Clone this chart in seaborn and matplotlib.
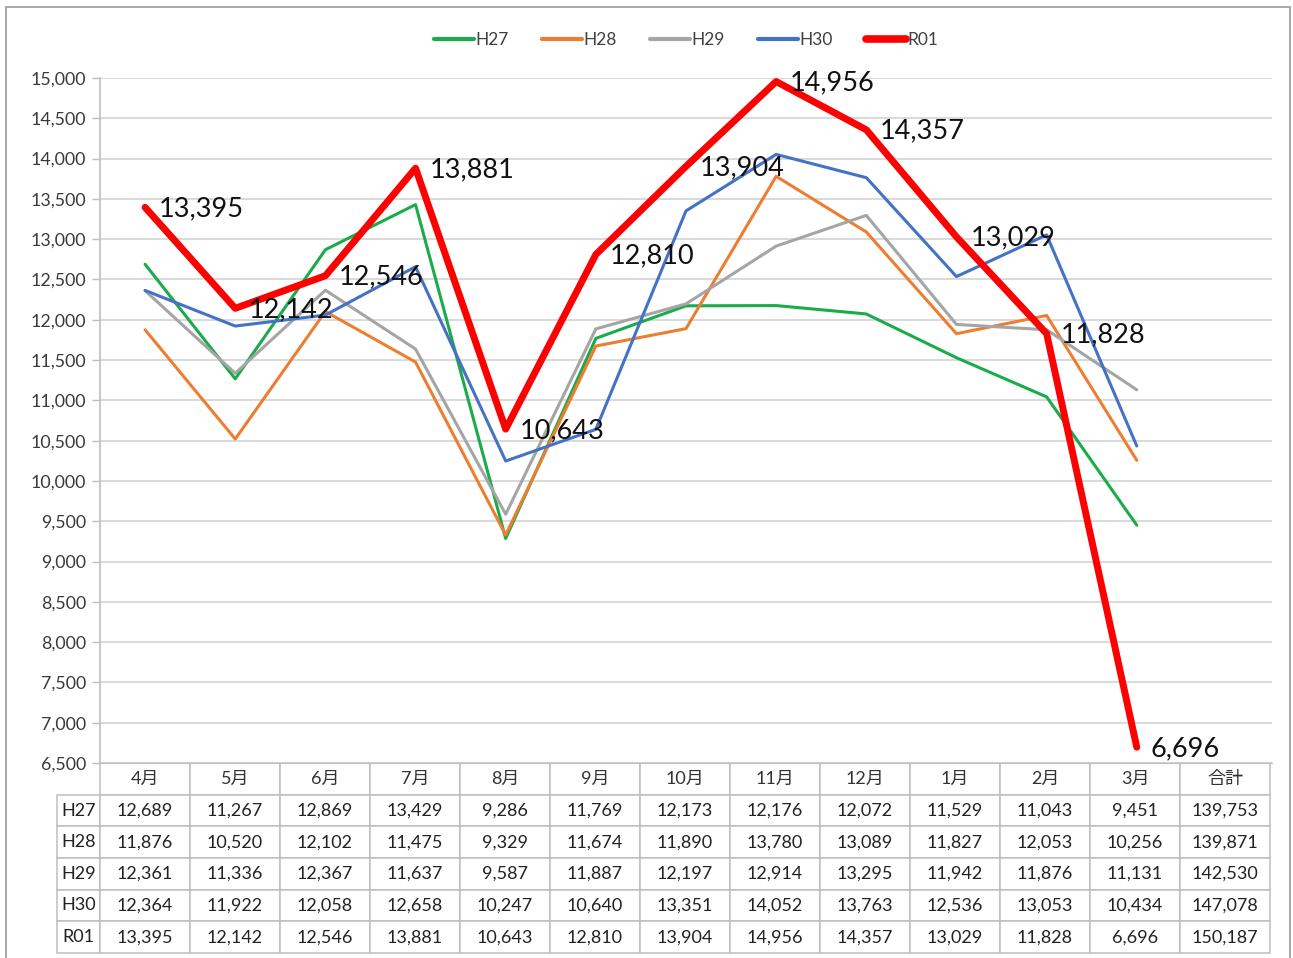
import numpy as np
import pandas as pd
import seaborn as sns
import matplotlib.pyplot as plt
from matplotlib.patches import Rectangle
from matplotlib.lines import Line2D
from matplotlib.ticker import FuncFormatter

# month categories (last column is the yearly total, table only)
months = ["4月", "5月", "6月", "7月", "8月", "9月", "10月", "11月", "12月", "1月", "2月", "3月"]
total_label = "合計"
years = ["H27", "H28", "H29", "H30", "R01"]

h27 = [12689, 11267, 12869, 13429, 9286, 11769, 12173, 12176, 12072, 11529, 11043, 9451]
h28 = [11876, 10520, 12102, 11475, 9329, 11674, 11890, 13780, 13089, 11827, 12053, 10256]
h29 = [12361, 11336, 12367, 11637, 9587, 11887, 12197, 12914, 13295, 11942, 11876, 11131]
h30 = [12364, 11922, 12058, 12658, 10247, 10640, 13351, 14052, 13763, 12536, 13053, 10434]
r01 = [13395, 12142, 12546, 13881, 10643, 12810, 13904, 14956, 14357, 13029, 11828, 6696]
totals = [139753, 139871, 142530, 147078, 150187]

series = dict(zip(years, [h27, h28, h29, h30, r01]))
colors = {"H27": "#1AAB4B", "H28": "#ED7D31", "H29": "#A5A5A5", "H30": "#4472C4", "R01": "#FF0000"}
widths = {"H27": 2.2, "H28": 2.2, "H29": 2.2, "H30": 2.2, "R01": 5.0}

df = pd.DataFrame([
    {"year": y, "pos": i, "value": v}
    for y in years for i, v in enumerate(series[y])
])

sns.set_style("white")
plt.rcParams["font.family"] = ["Lato", "Noto Sans CJK JP", "DejaVu Sans"]

fig = plt.figure(figsize=(12.93, 9.58), dpi=100)
ax = fig.add_axes([100 / 1293, 1 - 763 / 958, 1172 / 1293, 685 / 958])

for z, y in enumerate(years):
    sns.lineplot(data=df[df["year"] == y], x="pos", y="value", color=colors[y],
                 linewidth=widths[y], ax=ax, zorder=3 + z, legend=False)

# data labels for R01
for i, v in enumerate(r01):
    ax.annotate(f"{v:,}", (i, v), xytext=(10, -1), textcoords="offset points",
                ha="left", va="center", fontsize=19.5, color="#111111", zorder=10)

ax.set_xlim(-0.5, len(months) + 0.5)
ax.set_ylim(6500, 15000)
ax.set_yticks(np.arange(6500, 15001, 500))
ax.yaxis.set_major_formatter(FuncFormatter(lambda v, p: f"{int(v):,}"))
ax.set_xticks([])
ax.set_xlabel("")
ax.set_ylabel("")
ax.grid(axis="y", color="#D0D0D0", linewidth=1.1)
ax.tick_params(axis="y", length=6, width=1, color="#BFBFBF", labelsize=12.8,
               labelcolor="#3A3A3A", pad=4, left=True)
for s in ["top", "right"]:
    ax.spines[s].set_visible(False)
ax.spines["left"].set_color("#BFBFBF")
ax.spines["bottom"].set_color("#BFBFBF")
ax.spines["left"].set_linewidth(1.2)

# legend
handles = [Line2D([0], [0], color=colors[y], linewidth=widths[y] + (0.5 if y == "R01" else 0.8),
                  solid_capstyle="round") for y in years]
ax.legend(handles, years, loc="center", bbox_to_anchor=(0.5, 1.055), ncol=5, frameon=False,
          fontsize=12.5, handlelength=2.3, handletextpad=0.1, columnspacing=1.9,
          labelcolor="#404040")

# data table under the axis
cell_text = [[""] + months + [total_label]]
for y, t in zip(years, totals):
    cell_text.append([y] + [f"{v:,}" for v in series[y]] + [f"{t:,}"])

label_w = 43 / 1172
col_w = 90 / 1172
tbl_h = 190 / 685
tbl = ax.table(cellText=cell_text, cellLoc="center",
               colWidths=[label_w] + [col_w] * 13,
               bbox=[-label_w, -tbl_h, label_w + 13 * col_w, tbl_h])
tbl.auto_set_font_size(False)
tbl.set_fontsize(13)
for (r, c), cell in tbl.get_celld().items():
    cell.set_edgecolor("#BFBFBF")
    cell.set_linewidth(1.1)
    cell.get_text().set_color("#222222")
    if r == 0 and c == 0:
        cell.visible_edges = ""
    if r == 0:
        cell.get_text().set_color("#333333")

# outer chart border
fig.patches.append(Rectangle((6 / 1293, -0.02), 1284 / 1293, 1.02 - 7 / 958,
                             transform=fig.transFigure, fill=False,
                             edgecolor="#999999", linewidth=1.2))

fig.savefig("out.png", dpi=100)
